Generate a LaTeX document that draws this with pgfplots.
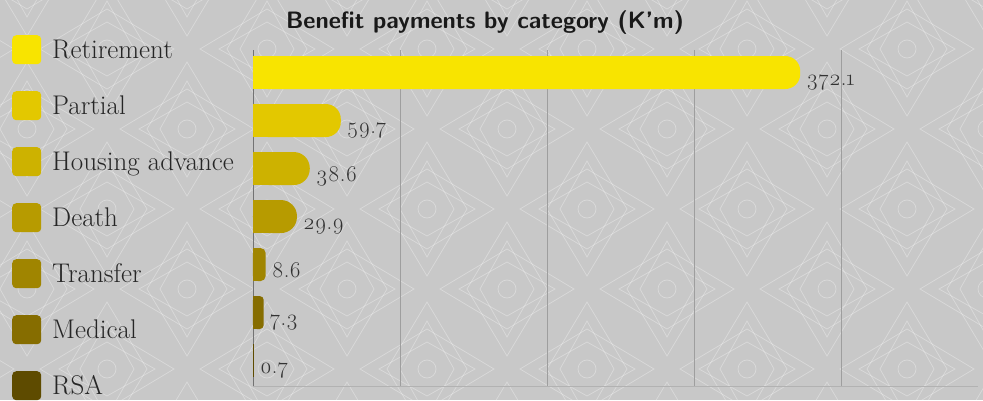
\documentclass[border=0pt]{standalone}
\usepackage{fontspec}
\setmainfont{Latin Modern Roman}
\newfontfamily\osf{Latin Modern Roman}[Numbers=OldStyle]
\usepackage{pgfplots}
\pgfplotsset{compat=1.18}
\definecolor{bg}{HTML}{C8C8C8}
\definecolor{cA}{HTML}{F8E400}
\definecolor{cB}{HTML}{E3C800}
\definecolor{cC}{HTML}{CDB200}
\definecolor{cD}{HTML}{B79B00}
\definecolor{cE}{HTML}{A08500}
\definecolor{cF}{HTML}{866D00}
\definecolor{cG}{HTML}{5E4B00}
\tikzset{motif/.pic={
  \draw (0,0) circle (9pt);
  \draw (0,67pt) -- (40pt,0) -- (0,-67pt) -- (-40pt,0) -- cycle;
  \draw (67pt,0) -- (0,40pt) -- (-67pt,0) -- (0,-40pt) -- cycle;
  \draw (0,48pt) -- (27pt,0) -- (0,-48pt) -- (-27pt,0) -- cycle;
  \draw (48pt,0) -- (0,27pt) -- (-48pt,0) -- (0,-27pt) -- cycle;
}}
\begin{document}
\begin{tikzpicture}
\useasboundingbox (0,0) rectangle (983pt,400pt);
\fill[bg] (0,0) rectangle (983pt,400pt);
\begin{scope}
\clip (0,0) rectangle (983pt,400pt);
\foreach \i in {-1,...,6}{
  \foreach \j in {-1,...,3}{
    \pic[draw=white, draw opacity=0.33, line width=0.7pt] at ({(187+160*\i)*1pt},{(271-160*\j)*1pt}) {motif};
    \pic[draw=white, draw opacity=0.33, line width=0.7pt] at ({(107+160*\i)*1pt},{(351-160*\j)*1pt}) {motif};
  }
}
\end{scope}
\node[font=\sffamily\bfseries\fontsize{23.7}{24}\selectfont, text=black!90] at (485pt,377pt) {Benefit payments by category (K’m)};
\begin{axis}[
  at={(253pt,14pt)}, anchor=south west,
  scale only axis, width=725pt, height=336pt,
  xmin=0, xmax=493,
  ymin=-0.469, ymax=6.53, y dir=reverse,
  axis lines*=left,
  x axis line style={color=black!30, line width=0.8pt},
  y axis line style={color=black!55, line width=0.8pt},
  xtick={100,200,300,400}, xticklabels={}, major tick length=0pt,
  ytick=\empty,
  xmajorgrids, major grid style={color=black!38, line width=0.7pt},
  xbar, bar width=33pt, bar shift=0pt,
  point meta=explicit symbolic,
  nodes near coords={\osf\pgfplotspointmeta},
  every node near coord/.append style={anchor=base west, yshift=-13pt, xshift=6pt, inner sep=0pt, font=\fontsize{22.5}{22.5}\selectfont, text=black!80},
  legend style={at={(axis description cs:-0.3324,1.0446)}, anchor=north west, draw=none, fill=none, inner sep=0pt, row sep=27pt, font=\fontsize{27}{27}\selectfont, cells={anchor=west}, nodes={inner sep=0pt, text=black!85, text height=18.4pt, text depth=0pt}, /tikz/every odd column/.append style={column sep=11pt}},
  legend image code/.code={\fill[#1, rounded corners=4pt] (0pt,-14.5pt) rectangle (29pt,14.5pt);},
]
\addplot[draw=none, fill=cA, rounded corners=15pt] coordinates {(372.1,0) [372.1]};
\addlegendentry{Retirement}
\addplot[draw=none, fill=cB, rounded corners=15pt] coordinates {(59.7,1) [59.7]};
\addlegendentry{Partial}
\addplot[draw=none, fill=cC, rounded corners=16pt] coordinates {(38.6,2) [38.6]};
\addlegendentry{Housing advance}
\addplot[draw=none, fill=cD, rounded corners=16pt] coordinates {(29.9,3) [29.9]};
\addlegendentry{Death}
\addplot[draw=none, fill=cE, rounded corners=5pt] coordinates {(8.6,4) [8.6]};
\addlegendentry{Transfer}
\addplot[draw=none, fill=cF, rounded corners=4pt] coordinates {(7.3,5) [7.3]};
\addlegendentry{Medical}
\addplot[draw=none, fill=cG] coordinates {(0.7,6) [0.7]};
\addlegendentry{RSA}
% square left ends
\addplot[forget plot, draw=none, fill=cA, nodes near coords={}, x filter/.expression={x/2}] coordinates {(372.1,0)};
\addplot[forget plot, draw=none, fill=cB, nodes near coords={}, x filter/.expression={x/2}] coordinates {(59.7,1)};
\addplot[forget plot, draw=none, fill=cC, nodes near coords={}, x filter/.expression={x/2}] coordinates {(38.6,2)};
\addplot[forget plot, draw=none, fill=cD, nodes near coords={}, x filter/.expression={x/2}] coordinates {(29.9,3)};
\addplot[forget plot, draw=none, fill=cE, nodes near coords={}, x filter/.expression={x/2}] coordinates {(8.6,4)};
\addplot[forget plot, draw=none, fill=cF, nodes near coords={}, x filter/.expression={x/2}] coordinates {(7.3,5)};
\end{axis}
\end{tikzpicture}
\end{document}
